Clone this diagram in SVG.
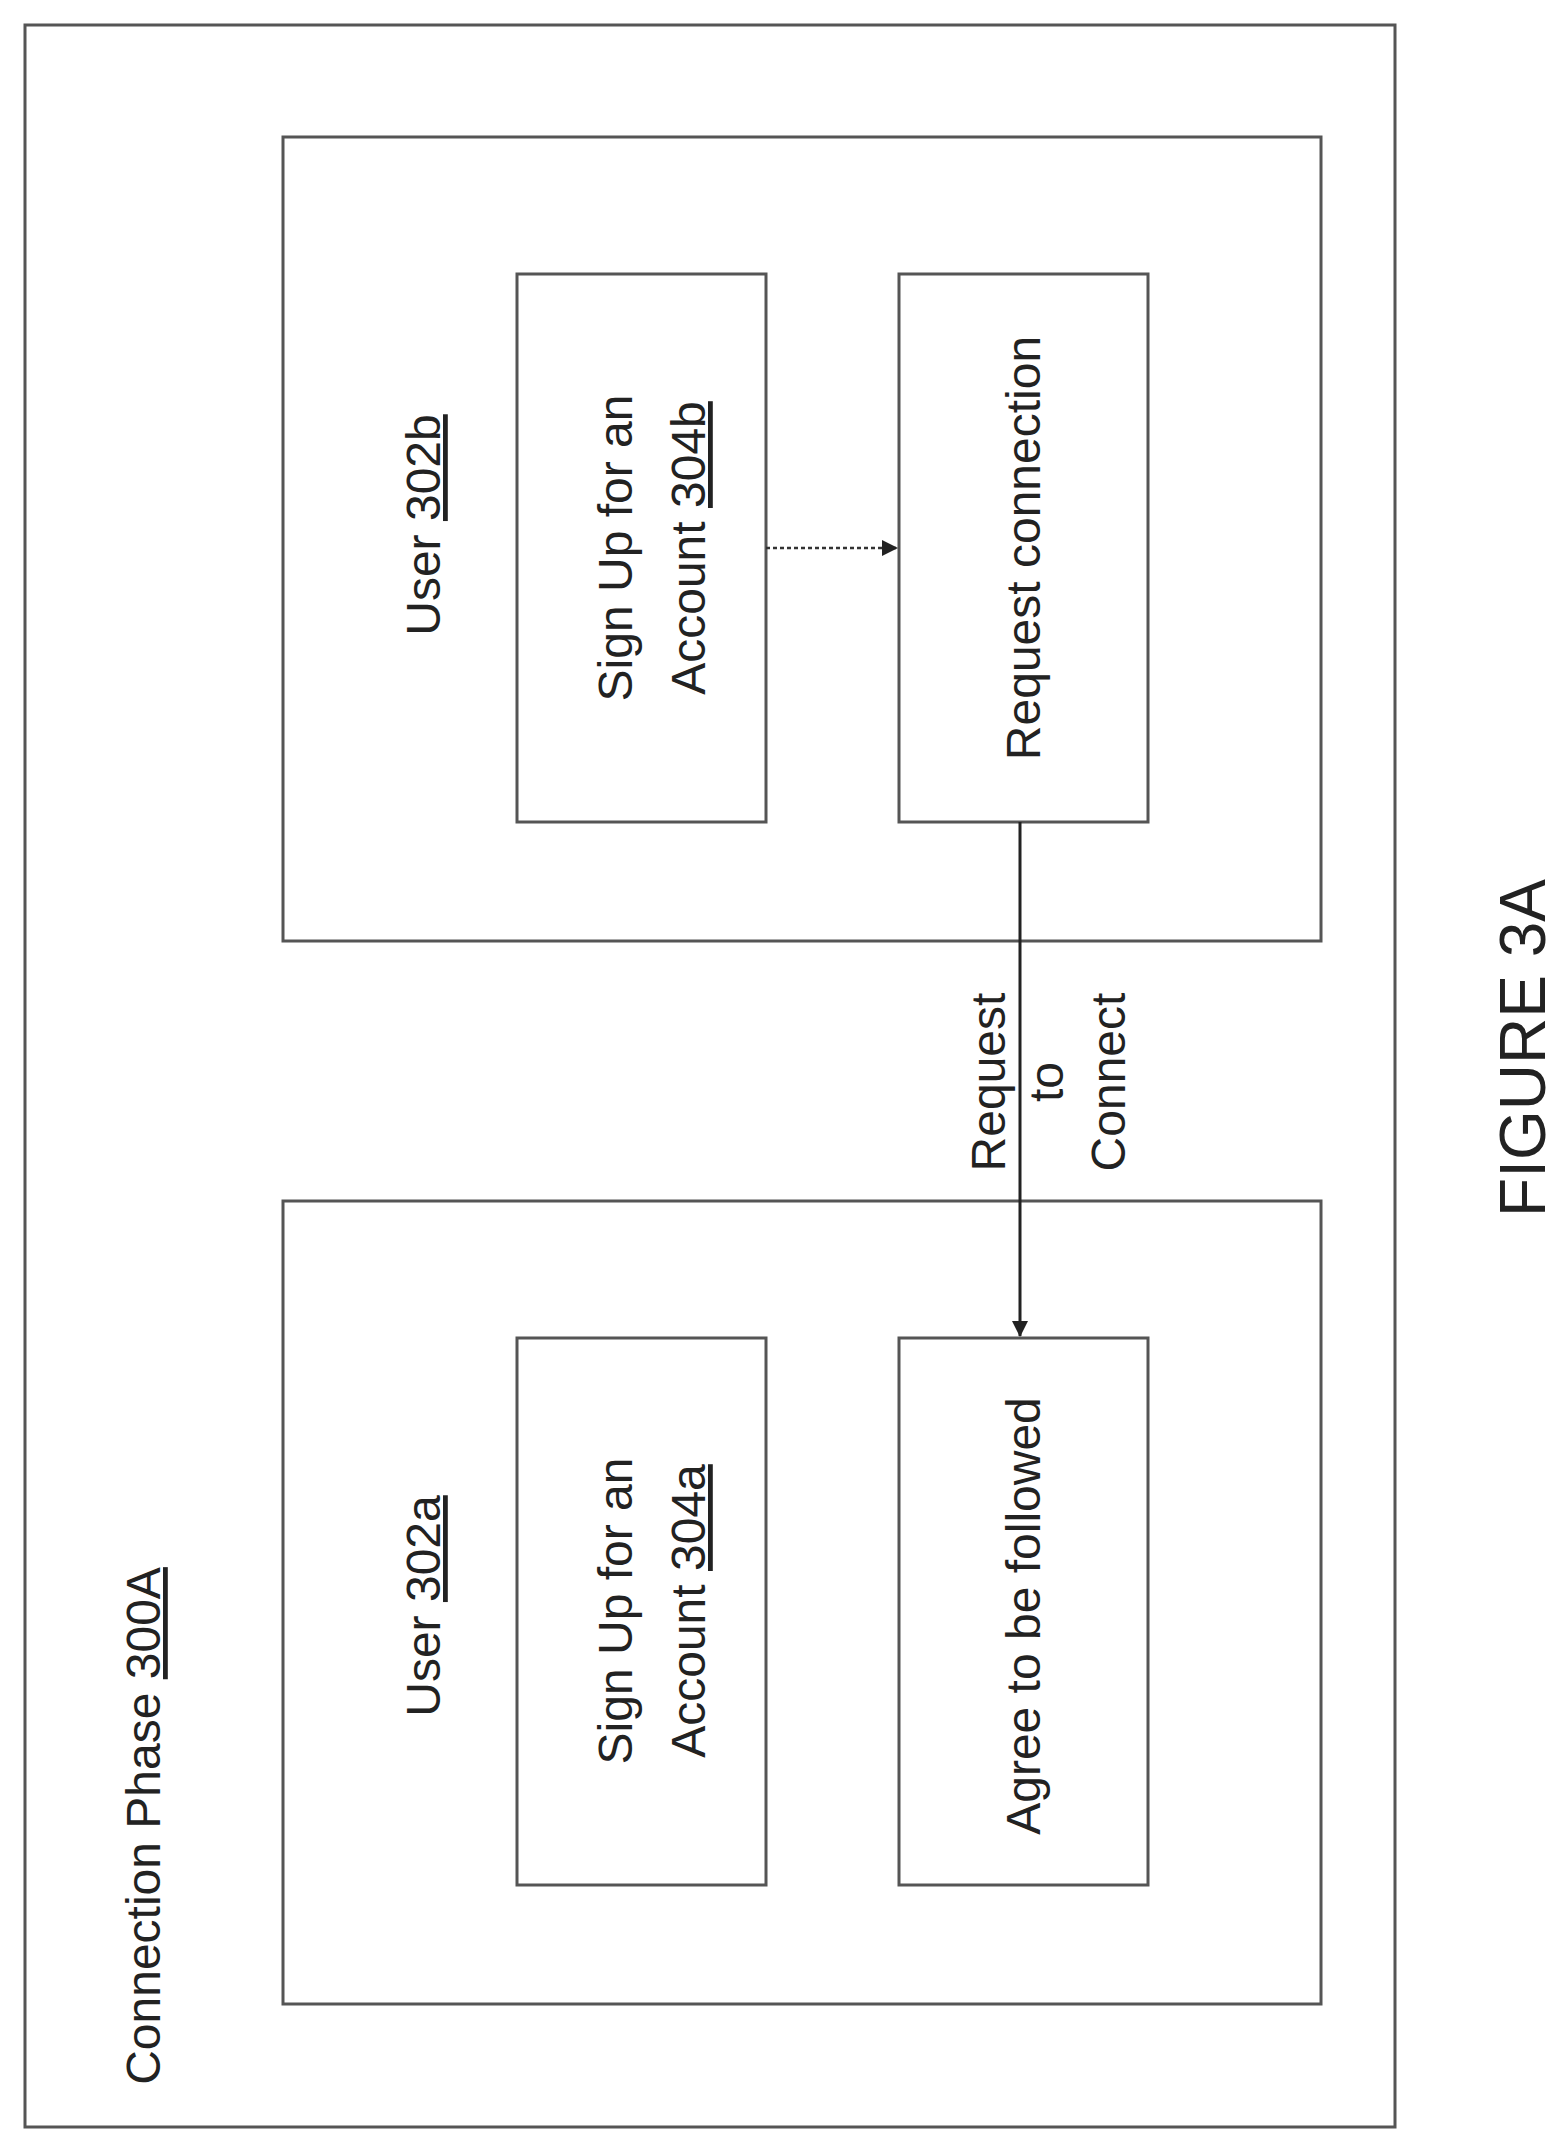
<svg xmlns="http://www.w3.org/2000/svg" width="1566" height="2145" viewBox="0 0 1566 2145">
<style>
.b{fill:#fff;stroke:#555;stroke-width:3}
.t{font-family:"Liberation Sans",Arial,sans-serif;font-size:48px;fill:#222;text-anchor:middle}
.u{text-decoration:underline}
</style>
<defs>
<marker id="ah" markerWidth="16" markerHeight="16" refX="15" refY="8" orient="auto" markerUnits="userSpaceOnUse">
<path d="M0,0 L16,8 L0,16 z" fill="#222"/>
</marker>
</defs>
<g id="outer">
<rect class="b" x="25" y="25" width="1370" height="2102"/>
<text class="t" transform="translate(160,1826) rotate(-90)">Connection Phase <tspan class="u">300A</tspan></text>
</g>
<g id="user302b">
<rect class="b" x="283" y="137" width="1038" height="804"/>
<text class="t" transform="translate(440,525) rotate(-90)">User <tspan class="u">302b</tspan></text>
</g>
<g id="user302a">
<rect class="b" x="283" y="1201" width="1038" height="803"/>
<text class="t" transform="translate(440,1606) rotate(-90)">User <tspan class="u">302a</tspan></text>
</g>
<g id="signup304b">
<rect class="b" x="517" y="274" width="249" height="548"/>
<text class="t" transform="translate(632,548) rotate(-90)"><tspan x="0">Sign Up for an</tspan><tspan x="0" dy="73">Account <tspan class="u">304b</tspan></tspan></text>
</g>
<g id="request">
<rect class="b" x="899" y="274" width="249" height="548"/>
<text class="t" transform="translate(1040,548) rotate(-90)">Request connection</text>
</g>
<g id="signup304a">
<rect class="b" x="517" y="1338" width="249" height="547"/>
<text class="t" transform="translate(632,1611) rotate(-90)"><tspan x="0">Sign Up for an</tspan><tspan x="0" dy="73">Account <tspan class="u">304a</tspan></tspan></text>
</g>
<g id="agree">
<rect class="b" x="899" y="1338" width="249" height="547"/>
<text class="t" transform="translate(1040,1616) rotate(-90)">Agree to be followed</text>
</g>
<g id="connectors">
<line x1="766" y1="548" x2="897" y2="548" stroke="#333" stroke-width="2.5" stroke-dasharray="4,3" marker-end="url(#ah)"/>
<line x1="1020" y1="822" x2="1020" y2="1336" stroke="#222" stroke-width="3" marker-end="url(#ah)"/>
<text class="t" transform="translate(1005,1082) rotate(-90)"><tspan x="0">Request</tspan><tspan x="0" dy="58">to</tspan><tspan x="0" dy="62">Connect</tspan></text>
</g>
<text class="t" style="font-size:64px" transform="translate(1545,1048) rotate(-90)">FIGURE 3A</text>
</svg>
